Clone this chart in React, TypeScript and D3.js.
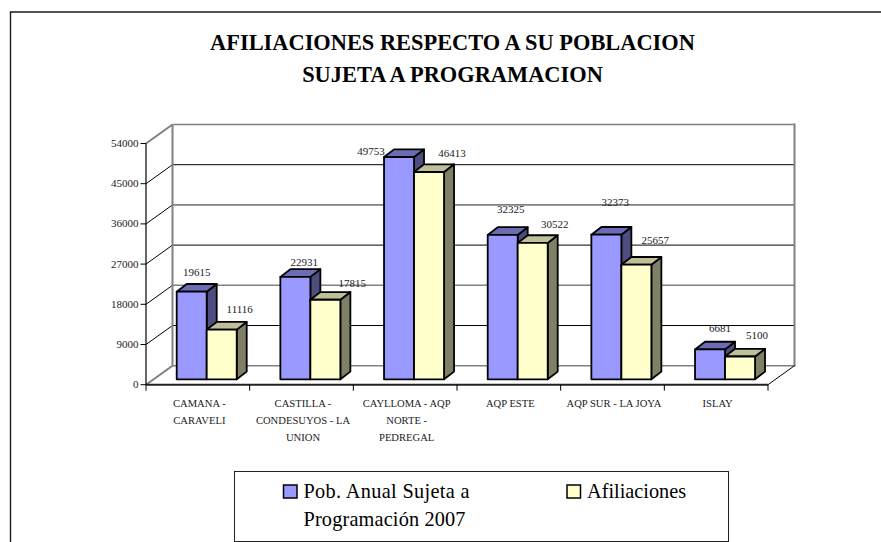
import React from "react";
import * as d3 from "d3";

const categoryLines = [
  ["CAMANA -", "CARAVELI"],
  ["CASTILLA -", "CONDESUYOS - LA", "UNION"],
  ["CAYLLOMA - AQP", "NORTE -", "PEDREGAL"],
  ["AQP ESTE"],
  ["AQP SUR - LA JOYA"],
  ["ISLAY"],
];
const categories = categoryLines.map((l) => l.join(" "));
const poblacion = [19615, 22931, 49753, 32325, 32373, 6681];
const afiliaciones = [11116, 17815, 46413, 30522, 25657, 5100];
const yTicks = [0, 9000, 18000, 27000, 36000, 45000, 54000];
const titleLines = ["AFILIACIONES RESPECTO A SU POBLACION", "SUJETA A PROGRAMACION"];
const legendLines = ["Pob. Anual Sujeta a", "Programación 2007"];
const legendSecond = "Afiliaciones";

const FONT = "'Liberation Serif', serif";
const GREY = "#808080";
const DX = 26.5;
const DY = 19;
const BAR_D = { x: 10, y: 7.7 };
const FILLS = [
  { front: "#9999FF", top: "#6C6CB4", side: "#4D4D80" },
  { front: "#FFFFCC", top: "#BFBF99", side: "#808066" },
];
const LEGEND_W = [166, 162];
// Hand-placed data-label anchors, relative to each bar's front-top centre
const LABEL_SHIFT = [
  [[5, -19], [18, -20]],
  [[9, -14], [27, -16]],
  [[-28, -6], [23, -18]],
  [[8, -25], [22, -18]],
  [[9, -32], [19, -24]],
  [[10, -20.5], [17, -21.5]],
];

function Bar({ x, w, top, base, c }: { x: number; w: number; top: number; base: number; c: (typeof FILLS)[0] }) {
  const p = (pts: number[][]) => pts.map((d) => d.join(",")).join(" ");
  const common = { stroke: "#000", strokeWidth: 1.8, strokeLinejoin: "round" as const };
  return (
    <g>
      <polygon points={p([[x + w, top], [x + w + BAR_D.x, top - BAR_D.y], [x + w + BAR_D.x, base - BAR_D.y], [x + w, base]])} fill={c.side} {...common} />
      <polygon points={p([[x, top], [x + BAR_D.x, top - BAR_D.y], [x + w + BAR_D.x, top - BAR_D.y], [x + w, top]])} fill={c.top} {...common} />
      <rect x={x} y={top} width={w} height={base - top} fill={c.front} {...common} />
    </g>
  );
}

export default function App() {
  const x = d3.scaleBand<string>().domain(categories).range([146, 768]);
  const y = d3.scaleLinear().domain([0, 54000]).range([384.7, 143.5]);
  const band = x.bandwidth();
  const barW = 30;
  const barLeft = 30.7;
  const sink = 5.4;
  const seriesList = [poblacion, afiliaciones];

  return (
    <svg width={881} height={542} style={{ position: "absolute", left: 0, top: 0, background: "#fff" }} fontFamily={FONT}>
      <path d="M10.5,542 V12 H881" fill="none" stroke="#1a1a1a" strokeWidth={1.4} />

      {titleLines.map((t, i) => (
        <text key={t} x={452.5} y={50 + i * 32} textAnchor="middle" fontSize={22.4} fontWeight="bold" fill="#000">{t}</text>
      ))}

      {yTicks.map((t, i) => {
        const grey = i % 2 === 0;
        const yy = y(t);
        return (
          <g key={t}>
            <line x1={146} y1={yy} x2={146 + DX} y2={yy - DY} stroke={i === 0 || i === 6 ? GREY : "#000"} strokeWidth={i === 0 || i === 6 ? 2 : 1} />
            <line x1={146 + DX} y1={yy - DY} x2={768 + DX} y2={yy - DY} stroke={grey ? GREY : "#000"} strokeWidth={grey ? 1.6 : 1} />
            <line x1={140.5} y1={yy} x2={146} y2={yy} stroke="#000" />
            <text x={138.5} y={yy + 3.5} textAnchor="end" fontSize={11} fill="#222">{t}</text>
          </g>
        );
      })}
      <line x1={146 + DX} y1={y(54000) - DY} x2={146 + DX} y2={y(0) - DY} stroke={GREY} strokeWidth={2} />
      <line x1={768 + DX} y1={y(54000) - DY - 1} x2={768 + DX} y2={y(0) - DY + 1} stroke={GREY} strokeWidth={2} />
      <line x1={768} y1={y(0)} x2={768 + DX} y2={y(0) - DY} stroke="#000" strokeWidth={1} />

      <line x1={146} y1={y(54000)} x2={146} y2={y(0)} stroke="#000" strokeWidth={1.2} />
      <line x1={146} y1={y(0)} x2={768} y2={y(0)} stroke="#222" strokeWidth={2} />
      {d3.range(0, categories.length + 1).map((i) => {
        const xx = 146 + i * band;
        return <line key={i} x1={xx} y1={y(0)} x2={xx} y2={y(0) + 6} stroke="#000" strokeWidth={1} />;
      })}

      {categories.map((c, i) => {
        const left = (x(c) as number) + barLeft;
        return (
          <g key={c}>
            {seriesList.map((s, k) => (
              <Bar key={k} x={left + k * barW} w={barW} top={y(s[i]) - sink} base={y(0) - sink} c={FILLS[k]} />
            ))}
          </g>
        );
      })}

      {categories.map((c, i) => {
        const left = (x(c) as number) + barLeft;
        return seriesList.map((s, k) => (
          <text
            key={c + k}
            x={left + k * barW + barW / 2 + LABEL_SHIFT[i][k][0]}
            y={y(s[i]) - sink + LABEL_SHIFT[i][k][1] + 3.5}
            textAnchor="middle"
            fontSize={11}
            fill="#222"
          >
            {s[i]}
          </text>
        ));
      })}

      {categoryLines.map((lines, i) => (
        <text key={i} textAnchor="middle" fontSize={10.6} fill="#222">
          {lines.map((l, j) => (
            <tspan key={j} x={(x(categories[i]) as number) + band / 2 + 1.5} y={407 + j * 16.8}>{l}</tspan>
          ))}
        </text>
      ))}

      <rect x={234.5} y={471.5} width={494} height={70} fill="#fff" stroke="#222" strokeWidth={1} />
      <rect x={283.5} y={485} width={13.5} height={13} fill={FILLS[0].front} stroke="#000" strokeWidth={1.5} />
      {legendLines.map((l, i) => (
        <text key={l} x={303.5} y={498 + i * 28} fontSize={20.3} fill="#000" textLength={LEGEND_W[i]} lengthAdjust="spacing">{l}</text>
      ))}
      <rect x={567} y={485} width={13.5} height={13} fill={FILLS[1].front} stroke="#000" strokeWidth={1.5} />
      <text x={587} y={498} fontSize={20.3} fill="#000">{legendSecond}</text>
    </svg>
  );
}
